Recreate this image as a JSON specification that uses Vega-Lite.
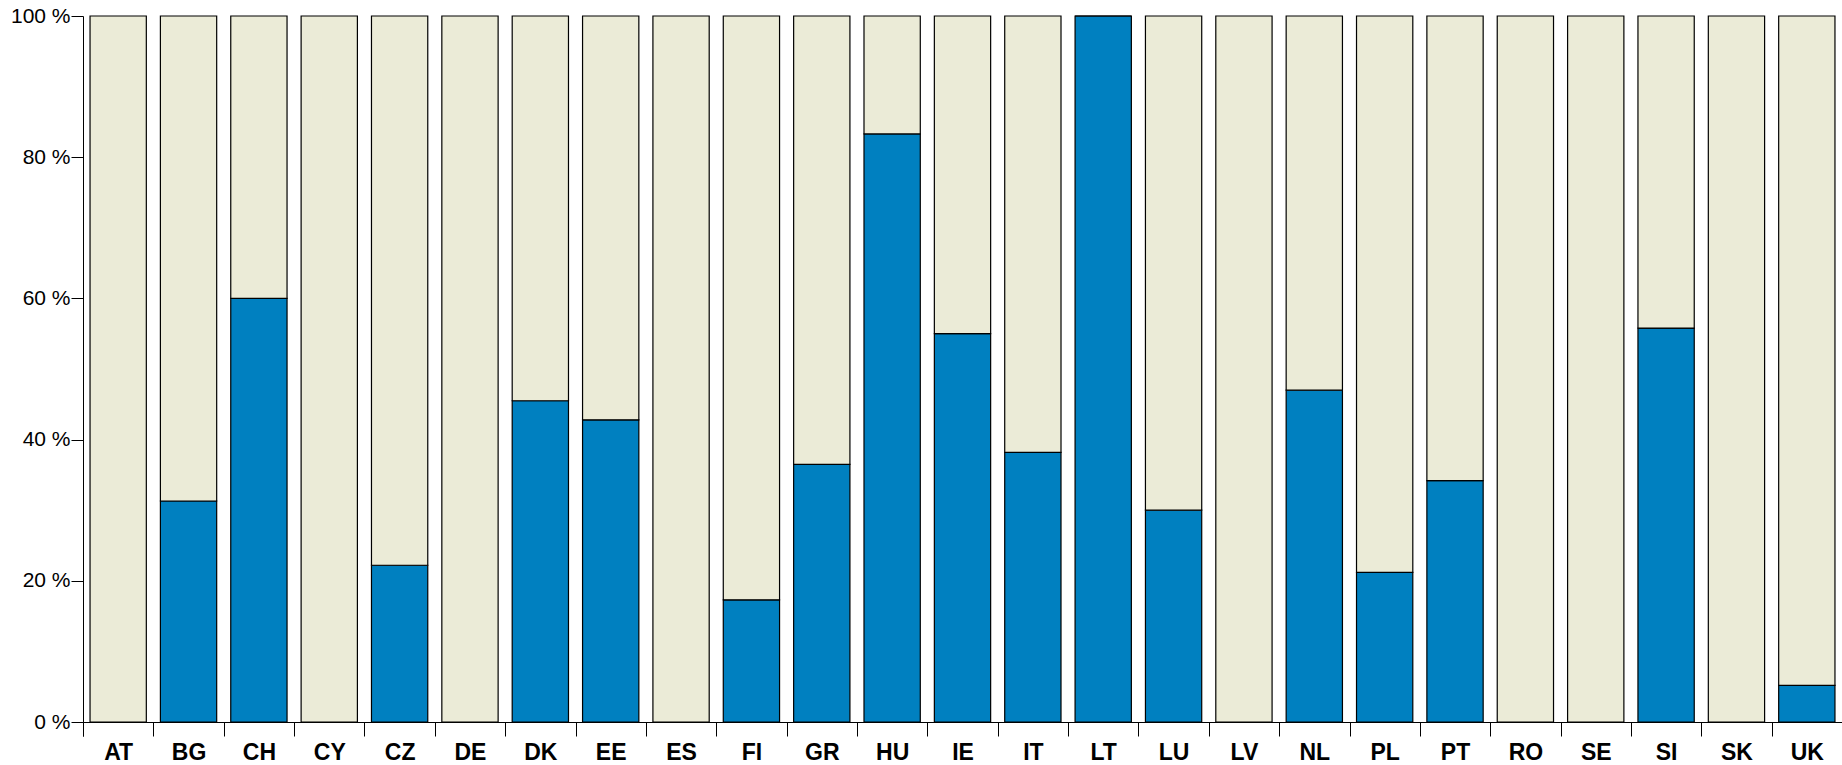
{
  "$schema": "https://vega.github.io/schema/vega-lite/v6.json",
  "width": 1759,
  "height": 706,
  "autosize": {"type": "none"},
  "padding": {"left": 83, "top": 16, "right": 0, "bottom": 43},
  "background": "white",
  "config": {"view": {"stroke": null}},
  "data": {
    "values": [
      {"country": "AT", "part": "a", "value": 0}, {"country": "AT", "part": "b", "value": 100},
      {"country": "BG", "part": "a", "value": 31.3}, {"country": "BG", "part": "b", "value": 68.7},
      {"country": "CH", "part": "a", "value": 60.0}, {"country": "CH", "part": "b", "value": 40.0},
      {"country": "CY", "part": "a", "value": 0}, {"country": "CY", "part": "b", "value": 100},
      {"country": "CZ", "part": "a", "value": 22.2}, {"country": "CZ", "part": "b", "value": 77.8},
      {"country": "DE", "part": "a", "value": 0}, {"country": "DE", "part": "b", "value": 100},
      {"country": "DK", "part": "a", "value": 45.5}, {"country": "DK", "part": "b", "value": 54.5},
      {"country": "EE", "part": "a", "value": 42.8}, {"country": "EE", "part": "b", "value": 57.2},
      {"country": "ES", "part": "a", "value": 0}, {"country": "ES", "part": "b", "value": 100},
      {"country": "FI", "part": "a", "value": 17.3}, {"country": "FI", "part": "b", "value": 82.7},
      {"country": "GR", "part": "a", "value": 36.5}, {"country": "GR", "part": "b", "value": 63.5},
      {"country": "HU", "part": "a", "value": 83.3}, {"country": "HU", "part": "b", "value": 16.7},
      {"country": "IE", "part": "a", "value": 55.0}, {"country": "IE", "part": "b", "value": 45.0},
      {"country": "IT", "part": "a", "value": 38.2}, {"country": "IT", "part": "b", "value": 61.8},
      {"country": "LT", "part": "a", "value": 100}, {"country": "LT", "part": "b", "value": 0},
      {"country": "LU", "part": "a", "value": 30.0}, {"country": "LU", "part": "b", "value": 70.0},
      {"country": "LV", "part": "a", "value": 0}, {"country": "LV", "part": "b", "value": 100},
      {"country": "NL", "part": "a", "value": 47.0}, {"country": "NL", "part": "b", "value": 53.0},
      {"country": "PL", "part": "a", "value": 21.2}, {"country": "PL", "part": "b", "value": 78.8},
      {"country": "PT", "part": "a", "value": 34.2}, {"country": "PT", "part": "b", "value": 65.8},
      {"country": "RO", "part": "a", "value": 0}, {"country": "RO", "part": "b", "value": 100},
      {"country": "SE", "part": "a", "value": 0}, {"country": "SE", "part": "b", "value": 100},
      {"country": "SI", "part": "a", "value": 55.8}, {"country": "SI", "part": "b", "value": 44.2},
      {"country": "SK", "part": "a", "value": 0}, {"country": "SK", "part": "b", "value": 100},
      {"country": "UK", "part": "a", "value": 5.2}, {"country": "UK", "part": "b", "value": 94.8}
    ]
  },
  "mark": {"type": "bar", "stroke": "#000", "strokeWidth": 1.2},
  "encoding": {
    "x": {
      "field": "country",
      "type": "nominal",
      "sort": null,
      "scale": {"paddingInner": 0.2, "paddingOuter": 0.1},
      "axis": {
        "title": null,
        "labelAngle": 0,
        "labelFont": "Liberation Sans",
        "labelFontSize": 23,
        "labelFontWeight": "bold",
        "labelColor": "#000",
        "labelPadding": 5,
        "bandPosition": 0,
        "tickExtra": true,
        "tickOffset": -7,
        "labelOffset": 7,
        "tickSize": 14,
        "tickColor": "#000",
        "domainColor": "#000",
        "grid": false
      }
    },
    "y": {
      "field": "value",
      "type": "quantitative",
      "stack": "zero",
      "scale": {"domain": [0, 100], "nice": false},
      "axis": {
        "title": null,
        "values": [0, 20, 40, 60, 80, 100],
        "labelExpr": "datum.value + ' %'",
        "labelFont": "Liberation Sans",
        "labelFontSize": 21,
        "labelColor": "#000",
        "labelPadding": 1,
        "tickSize": 12,
        "tickColor": "#000",
        "domainColor": "#000",
        "grid": false
      }
    },
    "color": {
      "field": "part",
      "type": "nominal",
      "scale": {"domain": ["a", "b"], "range": ["#0080C0", "#EBEBD7"]},
      "legend": null
    },
    "order": {"field": "part", "type": "nominal", "sort": "ascending"}
  }
}
